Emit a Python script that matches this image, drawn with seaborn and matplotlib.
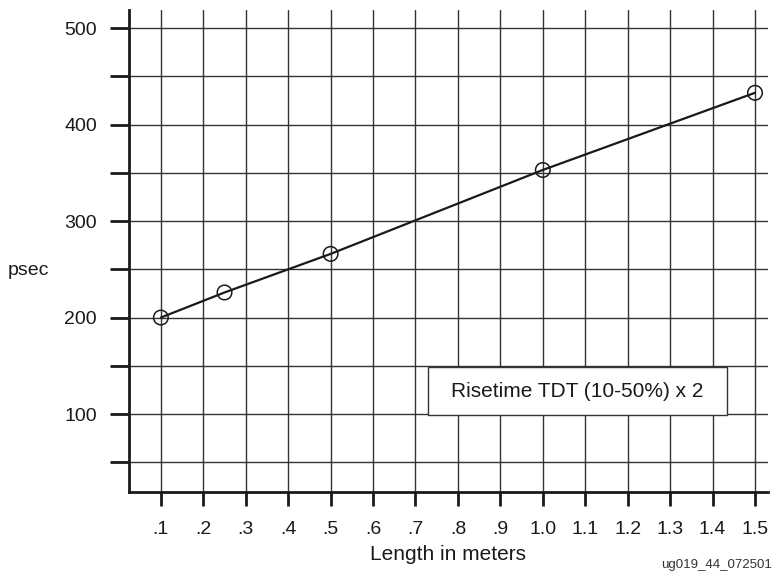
import matplotlib
matplotlib.use("Agg")
import matplotlib.pyplot as plt
from matplotlib.patches import Rectangle
import seaborn as sns
import pandas as pd

# --- data ---
length_m = [0.1, 0.25, 0.5, 1.0, 1.5]
risetime_ps = [200, 226, 266, 353, 433]
x_ticks = [0.1, 0.2, 0.3, 0.4, 0.5, 0.6, 0.7, 0.8, 0.9, 1.0, 1.1, 1.2, 1.3, 1.4, 1.5]
x_labels = [".1", ".2", ".3", ".4", ".5", ".6", ".7", ".8", ".9", "1.0", "1.1", "1.2", "1.3", "1.4", "1.5"]
y_ticks = [50, 100, 150, 200, 250, 300, 350, 400, 450, 500]
y_labels = ["", "100", "", "200", "", "300", "", "400", "", "500"]

df = pd.DataFrame({"length": length_m, "psec": risetime_ps})

sns.set_style("white")
plt.rcParams["font.family"] = ["Liberation Sans", "DejaVu Sans"]

fig = plt.figure(figsize=(7.81, 5.79), dpi=100)
ax = fig.add_axes([0.165, 0.150, 0.818, 0.833])

sns.lineplot(data=df, x="length", y="psec", color="#1a1a1a", linewidth=1.6, ax=ax)
sns.scatterplot(data=df, x="length", y="psec", s=110, facecolor="none",
                edgecolor="#1a1a1a", linewidth=1.1, ax=ax, zorder=4)

ax.set_xlim(0.0246, 1.53)
ax.set_ylim(19, 519)
ax.set_xticks(x_ticks)
ax.set_xticklabels(x_labels)
ax.set_yticks(y_ticks)
ax.set_yticklabels(y_labels)

ax.grid(True, color="#333333", linewidth=1.0)
ax.set_axisbelow(True)
for s in ["top", "right"]:
    ax.spines[s].set_visible(False)
for s in ["left", "bottom"]:
    ax.spines[s].set_color("#1a1a1a")
    ax.spines[s].set_linewidth(2.0)

ax.tick_params(axis="y", direction="out", length=14, width=2, color="#1a1a1a",
               labelsize=14, pad=9, left=True, labelcolor="#1a1a1a")
ax.tick_params(axis="x", direction="out", length=10, width=2, color="#1a1a1a",
               labelsize=14, pad=11, bottom=True, labelcolor="#1a1a1a")

ax.set_xlabel("Length in meters", fontsize=15, labelpad=5, color="#1a1a1a")
ax.set_ylabel("psec", fontsize=14, rotation=0, va="center", color="#1a1a1a")
ax.yaxis.set_label_coords(-0.158, 0.46)

# note box
ax.add_patch(Rectangle((0.468, 0.160), 0.469, 0.099, transform=ax.transAxes,
                       facecolor="white", edgecolor="#333333", linewidth=1.0, zorder=5))
ax.text(0.7025, 0.2095, "Risetime TDT (10-50%) x 2", transform=ax.transAxes, fontsize=15,
        ha="center", va="center", color="#1a1a1a", zorder=6)

fig.text(0.988, 0.025, "ug019_44_072501", fontsize=9.5, ha="right", va="center", color="#333333")

fig.savefig("out.png", dpi=100)
